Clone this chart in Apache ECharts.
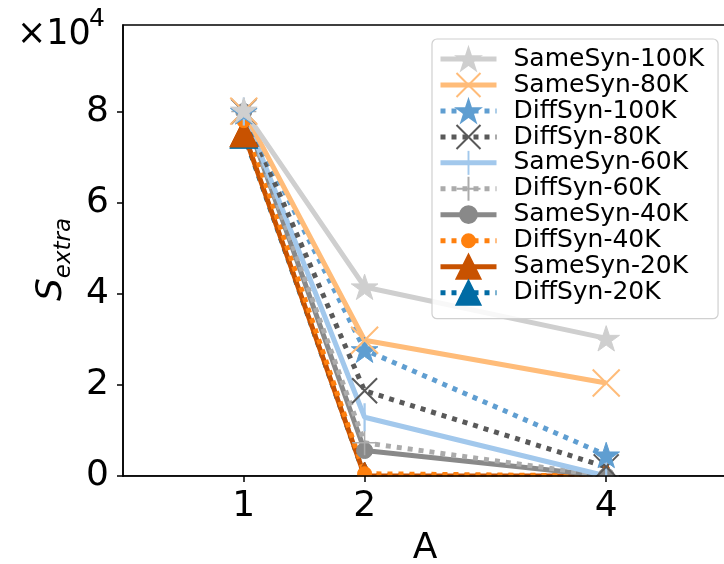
<!DOCTYPE html>
<html>
<head>
<meta charset="utf-8">
<script src="https://cdn.jsdelivr.net/npm/echarts@6/dist/echarts.min.js"></script>
<style>
  html, body { margin: 0; padding: 0; background: #fff; }
  #chart { width: 724px; height: 564px; }
</style>
</head>
<body>
<div id="chart"></div>
<script>
// ---- data ----
const A_VALUES = [1, 2, 4];
const Y_TICKS = [0, 2, 4, 6, 8];           // ×10^4
const SERIES_NAMES = ['SameSyn-100K', 'SameSyn-80K', 'DiffSyn-100K', 'DiffSyn-80K',
  'SameSyn-60K', 'DiffSyn-60K', 'SameSyn-40K', 'DiffSyn-40K', 'SameSyn-20K', 'DiffSyn-20K'];
const sameSyn100K = [80300, 41500, 30200];
const sameSyn80K  = [80100, 29800, 20400];
const diffSyn100K = [80000, 27700, 4600];
const diffSyn80K  = [80000, 18700, 2000];
const sameSyn60K  = [80000, 12900, 0];
const diffSyn60K  = [80000, 7300, 0];
const sameSyn40K  = [80000, 5600, 0];
const diffSyn40K  = [78000, 500, 0];
const sameSyn20K  = [75300, 0, 0];
const diffSyn20K  = [75000, 0, 0];

// ---- styling ----
const FONT = 'DejaVu Sans';
// invisible corner points keep every marker path in a square box
const BOX = 'M0,0L0,0M10,10L10,10';
function starPath() {
  const pts = [];
  for (let i = 0; i < 10; i++) {
    const r = i % 2 ? 1.91 : 5;
    const a = (-90 + i * 36) * Math.PI / 180;
    pts.push((5 + r * Math.cos(a)).toFixed(3) + ',' + (5.45 + r * Math.sin(a)).toFixed(3));
  }
  return 'path://' + BOX + 'M' + pts.join('L') + 'Z';
}
function circlePath(r) {
  const a = (5 - r).toFixed(2), b = (5 + r).toFixed(2);
  return 'path://' + BOX + 'M' + a + ',5A' + r + ',' + r + ',0,1,0,' + b + ',5A' + r + ',' + r + ',0,1,0,' + a + ',5Z';
}
const STAR = starPath();
const XMARK = 'path://M0,0L10,10M0,10L10,0';
const PLUS = 'path://M5,0L5,10M0,5L10,5';
const VBAR = 'path://' + BOX + 'M4.6,0L5.4,0L5.4,10L4.6,10Z';
const DOT = [5, 6];

const styles = {
  'SameSyn-100K': { color: '#CFCFCF', dash: 'solid', symbol: STAR, size: 28, bw: 1 },
  'SameSyn-80K':  { color: '#FFBC79', dash: 'solid', symbol: XMARK, size: 27, bw: 2 },
  'DiffSyn-100K': { color: '#5F9ED1', dash: DOT, symbol: STAR, size: 28, bw: 1 },
  'DiffSyn-80K':  { color: '#595959', dash: DOT, symbol: XMARK, size: 25, bw: 2 },
  'SameSyn-60K':  { color: '#A2C8EC', dash: 'solid', symbol: VBAR, size: 28, bw: 0 },
  'DiffSyn-60K':  { color: '#ABABAB', dash: DOT, symbol: PLUS, size: 25, bw: 1.5 },
  'SameSyn-40K':  { color: '#898989', dash: 'solid', symbol: circlePath(3.5), size: 23, bw: 1 },
  'DiffSyn-40K':  { color: '#FF800E', dash: DOT, symbol: circlePath(2.7), size: 26, bw: 1 },
  'SameSyn-20K':  { color: '#C85200', dash: 'solid', symbol: 'triangle', size: 28, bw: 1 },
  'DiffSyn-20K':  { color: '#006BA4', dash: DOT, symbol: 'triangle', size: 28, bw: 1 }
};
const values = {
  'SameSyn-100K': sameSyn100K, 'SameSyn-80K': sameSyn80K, 'DiffSyn-100K': diffSyn100K,
  'DiffSyn-80K': diffSyn80K, 'SameSyn-60K': sameSyn60K, 'DiffSyn-60K': diffSyn60K,
  'SameSyn-40K': sameSyn40K, 'DiffSyn-40K': diffSyn40K, 'SameSyn-20K': sameSyn20K,
  'DiffSyn-20K': diffSyn20K
};

// drawn in reverse order so the first legend entry is on top
const series = SERIES_NAMES.slice().reverse().map(name => {
  const s = styles[name];
  return {
    name: name,
    type: 'line',
    data: A_VALUES.map((a, i) => [a, values[name][i]]),
    symbol: s.symbol,
    symbolSize: s.size,
    showSymbol: true,
    clip: true,
    lineStyle: { color: s.color, width: 5, type: s.dash, cap: 'butt' },
    itemStyle: { color: s.color, borderColor: s.color, borderWidth: s.bw },
    emphasis: { disabled: true },
    animation: false
  };
});

const chart = echarts.init(document.getElementById('chart'), null, { renderer: 'canvas' });
chart.setOption({
  backgroundColor: '#fff',
  animation: false,
  textStyle: { fontFamily: FONT },
  grid: {
    left: 123, top: 25, right: -3, bottom: 88,
    outerBoundsMode: 'none', containLabel: false,
    show: true, borderColor: '#000', borderWidth: 1.5, backgroundColor: 'transparent'
  },
  xAxis: {
    type: 'value', min: 0, max: 5, z: 10,
    name: 'A', nameLocation: 'middle', nameGap: 55,
    nameTextStyle: { fontSize: 36, color: '#000', fontFamily: FONT },
    axisLine: { show: true, lineStyle: { color: '#000', width: 1.5 } },
    axisTick: { show: true, length: 6, lineStyle: { color: '#000', width: 1.5 }, customValues: A_VALUES },
    axisLabel: { fontSize: 36, color: '#000', margin: 13, fontFamily: FONT, customValues: A_VALUES },
    splitLine: { show: false }
  },
  yAxis: {
    type: 'value', min: 0, max: 99000, interval: 20000, z: 10,
    name: '{s|S}{e|extra}', nameLocation: 'middle', nameRotate: 90, nameGap: 46,
    nameTextStyle: {
      color: '#000', padding: [0, 18, 0, 0],
      rich: {
        s: { fontSize: 36, fontStyle: 'italic', fontFamily: FONT, color: '#000', lineHeight: 38, verticalAlign: 'bottom', padding: [0, 0, 6, 0] },
        e: { fontSize: 23, fontStyle: 'italic', fontFamily: FONT, color: '#000', lineHeight: 24, verticalAlign: 'bottom' }
      }
    },
    axisLine: { show: true, lineStyle: { color: '#000', width: 1.5 } },
    axisTick: { show: true, length: 6, lineStyle: { color: '#000', width: 1.5 } },
    axisLabel: {
      fontSize: 36, color: '#000', margin: 14, fontFamily: FONT, showMaxLabel: false,
      formatter: v => (Y_TICKS.indexOf(v / 10000) >= 0 ? String(v / 10000) : '')
    },
    splitLine: { show: false }
  },
  legend: {
    data: SERIES_NAMES,
    orient: 'vertical',
    left: 432, top: 39,
    padding: [7, 14, 13, 6],
    itemWidth: 56, itemHeight: 30, itemGap: 0,
    backgroundColor: 'rgba(255,255,255,0.85)',
    borderColor: '#d0d0d0', borderWidth: 1.2, borderRadius: 5,
    lineStyle: { width: 5 },
    textStyle: { fontSize: 25, lineHeight: 25.7, color: '#000', fontFamily: FONT, padding: [0, 0, 0, 12] },
    selectedMode: false
  },
  graphic: [
    { id: 'mult', type: 'text', left: 17, top: 17, style: { text: '×10', fontSize: 35, fontFamily: FONT, fill: '#000' } },
    { id: 'exp', type: 'text', left: 89, top: 7, style: { text: '4', fontSize: 25, fontFamily: FONT, fill: '#000' } }
  ],
  series: series
});

// clip markers that sit on the x axis at the plot edge (as in the reference)
const y0 = chart.convertToPixel({ yAxisIndex: 0 }, 0);
const xLeft = chart.convertToPixel({ xAxisIndex: 0 }, 0);
chart.setOption({
  graphic: [{
    id: 'clipmask', type: 'rect', z: 5, silent: true,
    shape: { x: xLeft + 1, y: y0 + 0.75, width: 724 - xLeft, height: 18 },
    style: { fill: '#fff' }
  }]
});
</script>
</body>
</html>
